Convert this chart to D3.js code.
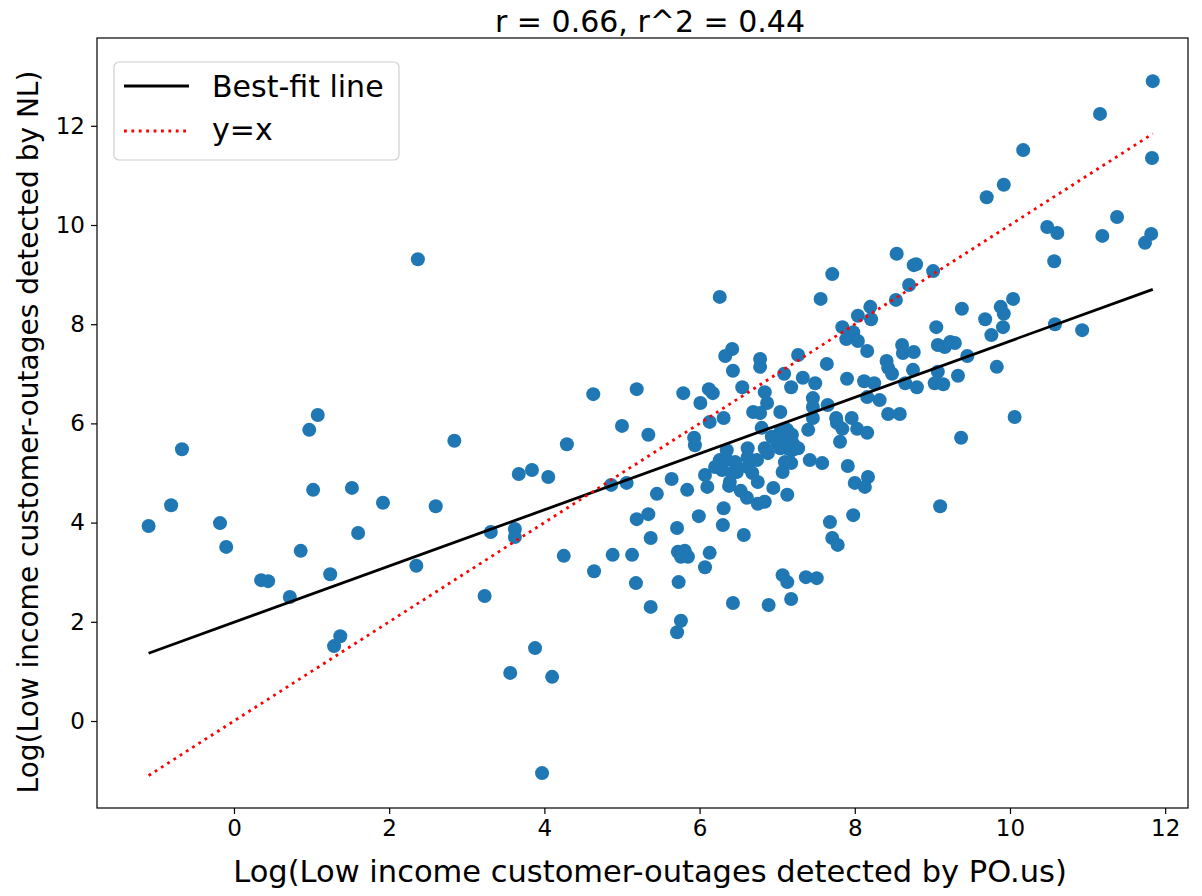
<!doctype html>
<html lang="en">
<head>
<meta charset="UTF-8">
<script src="https://cdn.jsdelivr.net/npm/d3@7"></script>
<style>
  body { margin: 0; background: #fff; }
  svg text { font-family: "DejaVu Sans", sans-serif; fill: #000; }
  .axis path, .axis line { stroke: #000; stroke-width: 1.2; }
</style>
</head>
<body>
<svg id="chart" width="1202" height="896"></svg>
<script>
// x: log(low income customer-outages detected by PO.us), y: same detected by NL
const xLogPO = [1.08,0.97,-0.67,1.02,1.52,1.92,-0.81,-1.10,-0.18,1.60,-0.10,0.86,0.35,0.44,1.24,0.72,1.37,1.29,
  2.37,4.63,2.84,4.29,3.67,3.84,4.05,2.60,3.31,3.62,3.62,2.35,4.25,4.64,3.23,3.88,3.56,4.10,3.97,
  6.26,6.42,6.33,6.78,6.78,6.43,6.55,5.19,5.79,6.12,6.17,6.01,6.84,6.87,6.69,6.78,6.31,6.13,5.00,5.34,5.93,5.94,
  7.04,6.80,6.93,7.04,7.13,6.62,6.84,6.88,6.35,6.62,6.74,6.26,6.35,6.46,6.20,6.29,6.42,6.48,6.62,6.68,6.07,6.39,6.75,5.84,6.53,6.61,7.10,7.07,6.95,
  4.86,5.06,5.64,6.10,6.38,5.45,6.75,6.84,5.34,5.19,5.99,6.31,5.71,6.30,6.57,5.37,4.88,5.13,5.72,5.81,5.76,5.85,6.13,6.07,5.18,5.73,5.37,6.43,6.89,5.76,5.71,
  8.54,8.76,7.71,7.56,8.70,8.53,8.20,8.04,8.21,7.84,7.98,7.89,8.04,8.16,7.27,7.64,7.09,7.33,7.49,7.18,7.90,8.12,8.25,8.41,8.43,8.48,8.61,8.62,8.76,8.75,8.65,8.80,
  7.46,7.65,7.46,7.76,7.96,8.16,8.32,8.43,8.58,7.46,7.77,8.03,8.16,7.40,7.84,7.13,7.19,7.00,7.07,7.20,7.81,7.04,7.19,7.27,7.42,7.58,7.91,8.00,8.17,8.13,7.13,7.98,7.68,7.71,7.78,7.07,7.13,7.37,7.51,7.18,7.18,
  10.48,10.61,10.57,8.79,9.01,10.04,9.88,9.92,9.38,9.68,9.91,10.58,9.05,9.76,9.07,9.16,9.23,9.29,9.45,9.07,9.33,9.83,9.03,9.14,10.06,9.37,
  11.84,11.16,11.83,11.38,11.19,11.82,11.74,10.93,10.17,9.92,9.70,9.10];
const yLogNL = [6.17,5.87,5.48,4.66,4.70,4.40,4.35,3.93,3.99,3.79,3.51,3.43,2.84,2.82,2.96,2.50,1.71,1.51,
  9.31,6.59,5.65,5.58,4.98,5.06,4.92,4.33,3.81,3.87,3.71,3.13,3.33,3.02,2.52,1.47,0.97,0.89,-1.05,
  8.55,7.50,7.36,7.30,7.14,7.06,6.73,6.69,6.61,6.69,6.61,6.41,6.63,6.41,6.23,6.21,6.11,6.03,5.95,5.77,5.71,5.56,
  6.23,5.91,5.73,5.83,5.50,5.50,5.50,5.40,5.46,5.32,5.26,5.26,5.26,5.22,5.12,5.06,5.00,5.02,5.12,5.00,4.96,4.82,4.82,4.66,4.64,4.50,5.22,5.02,4.70,
  4.76,4.80,4.88,4.72,4.74,4.58,4.38,4.42,4.17,4.07,4.13,4.29,3.89,3.95,3.75,3.69,3.35,3.35,3.41,3.43,3.31,3.31,3.39,3.10,2.78,2.80,2.30,2.38,2.34,2.02,1.79,
  9.42,9.19,9.01,8.51,8.79,8.49,8.35,8.17,8.10,7.94,7.84,7.70,7.66,7.46,7.38,7.20,7.00,6.92,6.81,6.73,6.90,6.85,6.81,7.26,7.12,7.00,7.58,7.42,7.44,7.08,6.81,6.73,
  6.51,6.37,6.11,6.11,6.11,6.53,6.47,6.19,6.19,6.33,6.01,5.89,5.81,5.87,5.89,5.87,5.77,5.60,5.67,5.60,5.63,5.50,5.46,5.50,5.26,5.20,5.14,4.80,4.92,4.72,4.56,4.15,4.01,3.69,3.55,2.94,2.80,2.90,2.88,2.46,5.20,
  9.96,9.84,9.27,9.21,9.07,8.51,8.35,8.21,8.31,8.10,7.94,8.00,7.94,7.78,7.58,7.54,7.64,7.62,7.36,7.04,6.96,7.14,6.81,6.79,6.13,5.71,
  12.90,12.24,11.35,10.16,9.78,9.82,9.64,7.88,11.51,10.81,10.56,4.33];

// best-fit line
const fitSlope = 0.567;
const fitIntercept = 1.99;

const xTicks = [0, 2, 4, 6, 8, 10, 12];
const yTicks = [0, 2, 4, 6, 8, 10, 12];
const legendLabels = ["Best-fit line", "y=x"];
const titleText = "r = 0.66, r^2 = 0.44";
const xLabel = "Log(Low income customer-outages detected by PO.us)";
const yLabel = "Log(Low income customer-outages detected by NL)";

let plotLeft = 97, plotRight = 1188, plotTop = 38, plotBottom = 808;

let svg = d3.select("#chart");

let xScale = d3.scaleLinear().domain([-1.765, 12.294]).range([plotLeft, plotRight]);
let yScale = d3.scaleLinear().domain([-1.754, 13.77]).range([plotBottom, plotTop]);

let points = xLogPO.map(function(d, i) { return {x: d, y: yLogNL[i]}; });
let xMin = d3.min(xLogPO), xMax = d3.max(xLogPO);

// scatter
svg.append("g").selectAll("circle")
  .data(points).enter().append("circle")
  .attr("cx", function(d) { return xScale(d.x); })
  .attr("cy", function(d) { return yScale(d.y); })
  .attr("r", 7)
  .attr("fill", "#1f77b4");

// lines
let line = d3.line().x(function(d) { return xScale(d[0]); }).y(function(d) { return yScale(d[1]); });
svg.append("path")
  .attr("d", line([[xMin, fitIntercept + fitSlope * xMin], [xMax, fitIntercept + fitSlope * xMax]]))
  .attr("stroke", "#000").attr("stroke-width", 2.8).attr("fill", "none");
svg.append("path")
  .attr("d", line([[xMin, xMin], [xMax, xMax]]))
  .attr("stroke", "red").attr("stroke-width", 2.8).attr("fill", "none")
  .attr("stroke-dasharray", "2.8,4.6");

// axes
svg.append("g").attr("class", "axis")
  .attr("transform", "translate(0," + plotBottom + ")")
  .call(d3.axisBottom(xScale).tickValues(xTicks).tickSize(6).tickPadding(6).tickSizeOuter(0));
svg.append("g").attr("class", "axis")
  .attr("transform", "translate(" + plotLeft + ",0)")
  .call(d3.axisLeft(yScale).tickValues(yTicks).tickSize(6).tickPadding(6).tickSizeOuter(0));
svg.selectAll(".axis text").style("font-size", "23px");
svg.selectAll(".axis .domain").remove();

// frame
svg.append("rect")
  .attr("x", plotLeft).attr("y", plotTop)
  .attr("width", plotRight - plotLeft).attr("height", plotBottom - plotTop)
  .attr("fill", "none").attr("stroke", "#000").attr("stroke-width", 1.2);

// title and labels
svg.append("text").attr("x", 650).attr("y", 32)
  .attr("text-anchor", "middle").style("font-size", "30px").text(titleText);
svg.append("text").attr("x", 650).attr("y", 882)
  .attr("text-anchor", "middle").style("font-size", "30.5px").text(xLabel);
svg.append("text")
  .attr("transform", "translate(38,432) rotate(-90)")
  .attr("text-anchor", "middle").style("font-size", "28px").text(yLabel);

// legend
let legend = svg.append("g").attr("transform", "translate(114,62)");
legend.append("rect").attr("width", 285).attr("height", 98).attr("rx", 5)
  .attr("fill", "#fff").attr("fill-opacity", 0.8)
  .attr("stroke", "#d0d0d0").attr("stroke-width", 1.2);
legend.append("line").attr("x1", 10).attr("x2", 75).attr("y1", 24).attr("y2", 24)
  .attr("stroke", "#000").attr("stroke-width", 2.8);
legend.append("line").attr("x1", 10).attr("x2", 75).attr("y1", 69).attr("y2", 69)
  .attr("stroke", "red").attr("stroke-width", 2.8).attr("stroke-dasharray", "2.8,4.6");
legend.selectAll("text.lab").data(legendLabels).enter().append("text")
  .attr("class", "lab")
  .attr("x", 98)
  .attr("y", function(d, i) { return 35 + i * 43; })
  .style("font-size", "30px")
  .text(function(d) { return d; });
</script>
</body>
</html>
